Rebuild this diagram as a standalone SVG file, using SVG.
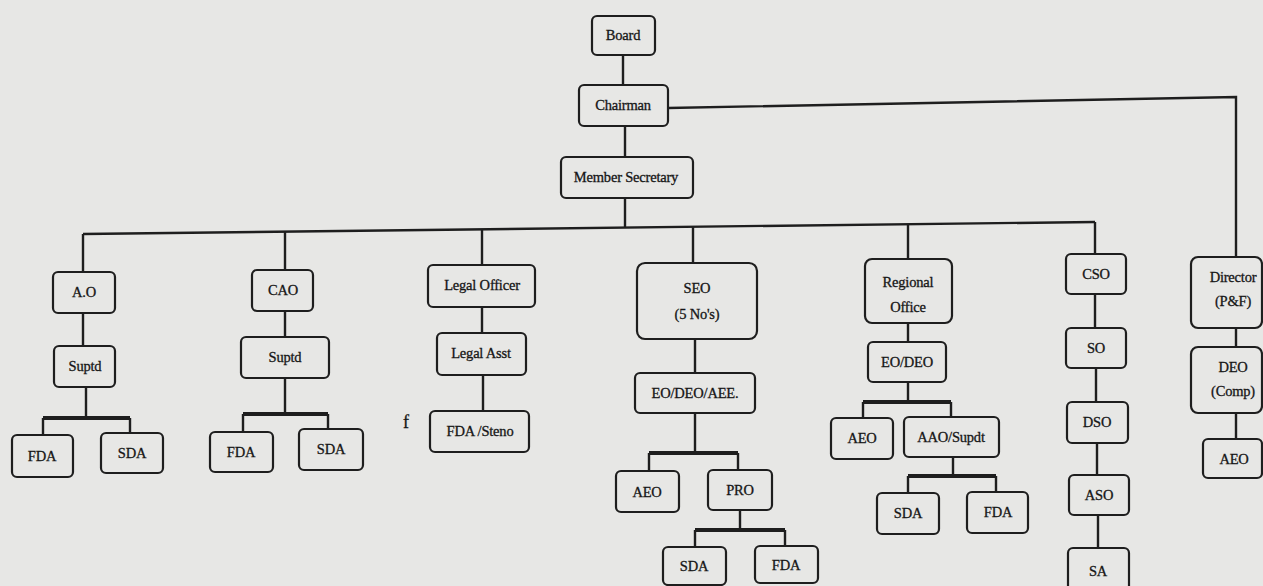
<svg xmlns="http://www.w3.org/2000/svg" width="1263" height="586" viewBox="0 0 1263 586">
<style>
.bg{fill:#e7e7e5}
.box{fill:none;stroke:#1e1e1e;stroke-width:2.2}
.ln{fill:none;stroke:#1e1e1e;stroke-width:2.4}
.bar{fill:none;stroke:#1e1e1e;stroke-width:4}
text{font-family:"Liberation Serif","Times New Roman",serif;font-size:14.5px;fill:#161616;stroke:#161616;stroke-width:0.3;text-anchor:middle;letter-spacing:-0.2px}
</style>
<rect class="bg" x="0" y="0" width="1263" height="586"/>
<g id="connectors">
<path class="ln" d="M623,55 V85"/>
<path class="ln" d="M625,126 V157"/>
<path class="ln" d="M625,198 V228"/>
<path class="ln" d="M83,234 L1095,222"/>
<path class="ln" d="M668,108 L1236,97 V257"/>
<path class="ln" d="M83,234 V272 M83,313 V346 M86,387 V418"/>
<path class="bar" d="M43,418 H130"/>
<path class="ln" d="M43,418 V435 M130,418 V433"/>
<path class="ln" d="M285,232 V270 M285,311 V337 M285,378 V414"/>
<path class="bar" d="M243,414 H328"/>
<path class="ln" d="M243,414 V432 M328,414 V429"/>
<path class="ln" d="M482,229 V265 M482,307 V333 M483,375 V411"/>
<path class="ln" d="M693,227 V263 M695,339 V373 M695,413 V453"/>
<path class="bar" d="M649,453 H738"/>
<path class="ln" d="M649,453 V471 M738,453 V470 M740,510 V530"/>
<path class="bar" d="M695,530 H785"/>
<path class="ln" d="M695,530 V547 M785,530 V546"/>
<path class="ln" d="M908,224 V259 M908,323 V342 M908,382 V402"/>
<path class="bar" d="M863,402 H951"/>
<path class="ln" d="M863,402 V418 M951,402 V417 M953,457 V476"/>
<path class="bar" d="M908,476 H996"/>
<path class="ln" d="M908,476 V493 M996,476 V492"/>
<path class="ln" d="M1095,222 V254 M1095,294 V328 M1096,368 V402 M1097,443 V475 M1098,515 V548"/>
<path class="ln" d="M1236,328 V347 M1236,413 V439"/>
</g>
<g id="board"><rect class="box" x="592" y="16" width="63" height="39" rx="5"/><text x="623" y="40">Board</text></g>
<g id="chairman"><rect class="box" x="579" y="85" width="89" height="41" rx="5"/><text x="623" y="110">Chairman</text></g>
<g id="member-secretary"><rect class="box" x="561" y="157" width="132" height="41" rx="5"/><text x="626" y="182">Member Secretary</text></g>
<g id="ao"><rect class="box" x="53" y="272" width="62" height="41" rx="5"/><text x="84" y="297">A.O</text></g>
<g id="ao-suptd"><rect class="box" x="54" y="346" width="61" height="41" rx="5"/><text x="85" y="371">Suptd</text></g>
<g id="ao-fda"><rect class="box" x="12" y="435" width="61" height="42" rx="5"/><text x="42" y="461">FDA</text></g>
<g id="ao-sda"><rect class="box" x="101" y="433" width="62" height="40" rx="5"/><text x="132" y="458">SDA</text></g>
<g id="cao"><rect class="box" x="252" y="270" width="61" height="41" rx="5"/><text x="283" y="295">CAO</text></g>
<g id="cao-suptd"><rect class="box" x="241" y="337" width="88" height="41" rx="5"/><text x="285" y="362">Suptd</text></g>
<g id="cao-fda"><rect class="box" x="210" y="432" width="63" height="40" rx="5"/><text x="241" y="457">FDA</text></g>
<g id="cao-sda"><rect class="box" x="299" y="429" width="64" height="41" rx="5"/><text x="331" y="454">SDA</text></g>
<g id="legal-officer"><rect class="box" x="428" y="265" width="107" height="42" rx="5"/><text x="482" y="290">Legal Officer</text></g>
<g id="legal-asst"><rect class="box" x="437" y="333" width="89" height="42" rx="5"/><text x="481" y="358">Legal Asst</text></g>
<g id="fda-steno"><rect class="box" x="430" y="411" width="99" height="41" rx="5"/><text x="480" y="436">FDA /Steno</text></g>
<text x="406" y="428" style="font-size:18px">f</text>
<g id="seo"><rect class="box" x="637" y="263" width="120" height="76" rx="8"/><text x="697" y="293">SEO</text><text x="697" y="319">(5 No's)</text></g>
<g id="eo-deo-aee"><rect class="box" x="635" y="373" width="120" height="40" rx="5"/><text x="695" y="398">EO/DEO/AEE.</text></g>
<g id="seo-aeo"><rect class="box" x="616" y="471" width="63" height="41" rx="5"/><text x="647" y="497">AEO</text></g>
<g id="pro"><rect class="box" x="708" y="470" width="64" height="40" rx="5"/><text x="740" y="495">PRO</text></g>
<g id="pro-sda"><rect class="box" x="663" y="547" width="63" height="38" rx="5"/><text x="694" y="571">SDA</text></g>
<g id="pro-fda"><rect class="box" x="755" y="546" width="63" height="37" rx="5"/><text x="786" y="570">FDA</text></g>
<g id="regional-office"><rect class="box" x="865" y="259" width="87" height="64" rx="7"/><text x="908" y="287">Regional</text><text x="908" y="312">Office</text></g>
<g id="ro-eo-deo"><rect class="box" x="868" y="342" width="78" height="40" rx="5"/><text x="907" y="367">EO/DEO</text></g>
<g id="ro-aeo"><rect class="box" x="831" y="418" width="62" height="41" rx="5"/><text x="862" y="443">AEO</text></g>
<g id="aao-supdt"><rect class="box" x="904" y="417" width="95" height="40" rx="5"/><text x="951" y="442">AAO/Supdt</text></g>
<g id="aao-sda"><rect class="box" x="877" y="493" width="62" height="41" rx="5"/><text x="908" y="518">SDA</text></g>
<g id="aao-fda"><rect class="box" x="967" y="492" width="61" height="41" rx="5"/><text x="998" y="517">FDA</text></g>
<g id="cso"><rect class="box" x="1066" y="254" width="60" height="40" rx="5"/><text x="1096" y="279">CSO</text></g>
<g id="so"><rect class="box" x="1066" y="328" width="60" height="40" rx="5"/><text x="1096" y="353">SO</text></g>
<g id="dso"><rect class="box" x="1067" y="402" width="61" height="41" rx="5"/><text x="1097" y="427">DSO</text></g>
<g id="aso"><rect class="box" x="1069" y="475" width="60" height="40" rx="5"/><text x="1099" y="500">ASO</text></g>
<g id="sa"><rect class="box" x="1068" y="548" width="61" height="44" rx="5"/><text x="1098" y="576">SA</text></g>
<g id="director"><rect class="box" x="1191" y="257" width="71" height="71" rx="7"/><text x="1233" y="282">Director</text><text x="1233" y="306">(P&amp;F)</text></g>
<g id="deo-comp"><rect class="box" x="1191" y="347" width="71" height="66" rx="7"/><text x="1233" y="372">DEO</text><text x="1233" y="396">(Comp)</text></g>
<g id="director-aeo"><rect class="box" x="1203" y="439" width="59" height="39" rx="5"/><text x="1234" y="464">AEO</text></g>
</svg>
